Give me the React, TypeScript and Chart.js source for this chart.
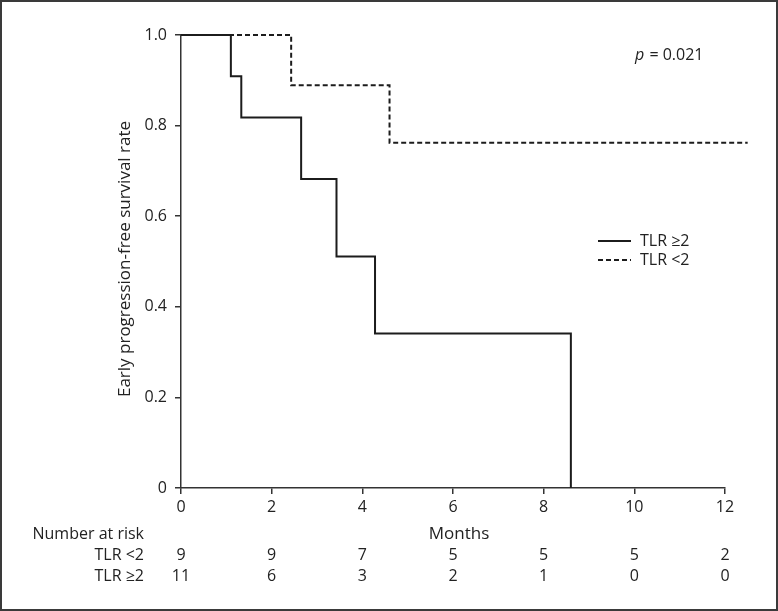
import React, { useEffect, useRef } from "react";
import { Chart, registerables } from "chart.js";

Chart.register(...registerables);

// ---- data ----
const tickMonths = [0, 2, 4, 6, 8, 10, 12];
const riskLow = [9, 9, 7, 5, 5, 5, 2];
const riskHigh = [11, 6, 3, 2, 1, 0, 0];

const highTimes = [0, 1.1, 1.33, 2.65, 3.43, 4.28, 8.6];
const highSurv = [1, 0.909, 0.818, 0.682, 0.511, 0.341, 0];

const lowTimes = [0, 2.43, 4.6, 12.5];
const lowSurv = [1, 0.889, 0.762, 0.762];

const yTicks = [0, 0.2, 0.4, 0.6, 0.8, 1.0];

const labelHigh = "TLR \u22652";
const labelLow = "TLR <2";
const pText = "= 0.021";
const yTitle = "Early progression-free survival rate";
const xTitle = "Months";
const riskTitle = "Number at risk";

const FONT = '"Open Sans", sans-serif';
const TEXT = "#222";
const LINE = "#1c1c1c";

const W = 778;
const H = 611;

export default function App() {
  const ref = useRef<HTMLCanvasElement | null>(null);

  useEffect(() => {
    const canvas = ref.current;
    if (!canvas) return;

    const overlay = {
      id: "overlay",
      beforeDraw(chart: any) {
        const ctx = chart.ctx;
        ctx.save();
        ctx.fillStyle = "#fff";
        ctx.fillRect(0, 0, W, H);
        ctx.strokeStyle = "#3a3a3a";
        ctx.lineWidth = 2;
        ctx.strokeRect(1, 1, W - 2, H - 2);
        ctx.restore();
      },
      afterDraw(chart: any) {
        const ctx = chart.ctx;
        const xs = chart.scales.x;
        ctx.save();
        ctx.fillStyle = TEXT;
        ctx.textBaseline = "middle";

        // y title
        ctx.save();
        ctx.font = `17px ${FONT}`;
        ctx.translate(125, 259);
        ctx.rotate(-Math.PI / 2);
        ctx.textAlign = "center";
        ctx.fillText(yTitle, 0, 0);
        ctx.restore();

        // x title
        ctx.font = `17px ${FONT}`;
        ctx.textAlign = "center";
        ctx.fillText(xTitle, xs.getPixelForValue(6) + 6, 534);

        // number at risk
        ctx.font = `16px ${FONT}`;
        ctx.textAlign = "right";
        ctx.fillText(riskTitle, 144, 534);
        ctx.fillText(labelLow, 144, 555);
        ctx.fillText(labelHigh, 144, 576);
        ctx.textAlign = "center";
        tickMonths.forEach((m, i) => {
          const x = xs.getPixelForValue(m);
          ctx.fillText(String(riskLow[i]), x, 555);
          ctx.fillText(String(riskHigh[i]), x, 576);
        });

        // p value
        ctx.textAlign = "left";
        ctx.font = `italic 16px ${FONT}`;
        ctx.fillText("p", 635, 55);
        const pw = ctx.measureText("p ").width;
        ctx.font = `16px ${FONT}`;
        ctx.fillText(pText, 635 + pw + 1, 55);

        // legend
        ctx.font = `16px ${FONT}`;
        const items = [
          { label: labelHigh, dash: [] as number[], y: 241 },
          { label: labelLow, dash: [5, 3], y: 260 },
        ];
        items.forEach((it) => {
          ctx.save();
          ctx.strokeStyle = LINE;
          ctx.lineWidth = 2;
          ctx.setLineDash(it.dash);
          ctx.beginPath();
          ctx.moveTo(598, it.y);
          ctx.lineTo(631, it.y);
          ctx.stroke();
          ctx.restore();
          ctx.fillText(it.label, 640, it.y);
        });
        ctx.restore();
      },
    };

    const chart = new Chart(canvas, {
      type: "line",
      data: {
        datasets: [
          {
            label: labelHigh,
            data: highTimes.map((t, i) => ({ x: t, y: highSurv[i] })),
            borderColor: LINE,
            borderWidth: 2,
            stepped: "before",
            pointRadius: 0,
            fill: false,
            clip: false as any,
          },
          {
            label: labelLow,
            data: lowTimes.map((t, i) => ({ x: t, y: lowSurv[i] })),
            borderColor: LINE,
            borderWidth: 2,
            borderDash: [5, 3],
            stepped: "before",
            pointRadius: 0,
            fill: false,
            clip: false as any,
          },
        ],
      },
      plugins: [overlay],
      options: {
        responsive: false,
        animation: false,
        devicePixelRatio: 1,
        layout: { padding: { left: 0, top: 35, right: 53, bottom: 0 } },
        plugins: {
          legend: { display: false },
          tooltip: { enabled: false },
        },
        scales: {
          x: {
            type: "linear",
            min: 0,
            max: 12,
            afterFit: (s: any) => {
              s.height = 123;
            },
            afterBuildTicks: (s: any) => {
              s.ticks = tickMonths.map((v) => ({ value: v }));
            },
            ticks: {
              color: TEXT,
              font: { family: FONT, size: 16 },
              padding: 4,
              maxRotation: 0,
            },
            grid: {
              drawOnChartArea: false,
              drawTicks: true,
              tickLength: 6,
              color: "#333",
              lineWidth: 1.5,
            },
            border: { display: true, color: "#333", width: 1.5 },
          },
          y: {
            type: "linear",
            min: 0,
            max: 1,
            afterFit: (s: any) => {
              s.width = 181;
            },
            afterBuildTicks: (s: any) => {
              s.ticks = yTicks.map((v) => ({ value: v }));
            },
            ticks: {
              color: TEXT,
              font: { family: FONT, size: 16 },
              padding: 8,
              callback: (v: any) => (Number(v) === 0 ? "0" : Number(v).toFixed(1)),
            },
            grid: {
              drawOnChartArea: false,
              drawTicks: true,
              tickLength: 6,
              color: "#333",
              lineWidth: 1.5,
            },
            border: { display: true, color: "#333", width: 1.5 },
          },
        },
      },
    } as any);

    return () => chart.destroy();
  }, []);

  return (
    <div style={{ position: "absolute", left: 0, top: 0, width: W, height: H }}>
      <canvas ref={ref} width={W} height={H} style={{ width: W, height: H, display: "block" }} />
    </div>
  );
}
